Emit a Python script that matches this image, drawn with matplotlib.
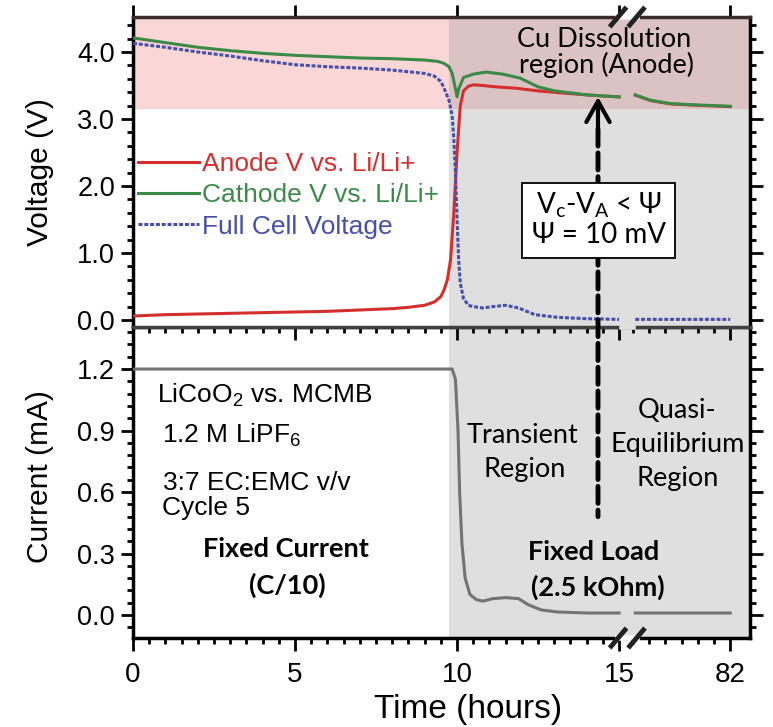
import numpy as np
import matplotlib
matplotlib.use('Agg')
import matplotlib.pyplot as plt
from matplotlib.ticker import MultipleLocator, FixedLocator
from matplotlib.patches import Rectangle, ConnectionPatch

plt.rcParams['font.family'] = ['Liberation Sans', 'DejaVu Sans']
plt.rcParams['mathtext.default'] = 'regular'
CAL = ['Lato', 'DejaVu Sans']   # stand-in for the Calibri-like annotations

# ---------------- data (time in hours) ----------------
# before the axis break (0 - 15 h)
t_anode = [0, 1, 2, 3, 4, 5, 6, 7, 8, 8.5, 9, 9.3, 9.5, 9.6, 9.7, 9.8, 9.9, 10.0,
           10.1, 10.2, 10.35, 10.5, 10.8, 11.2, 11.8, 12.5, 13.2, 14.0, 14.6, 15.0]
v_anode = [0.06, 0.08, 0.09, 0.10, 0.11, 0.12, 0.13, 0.15, 0.17, 0.19, 0.22, 0.27, 0.35,
           0.45, 0.6, 0.9, 1.6, 2.5, 3.2, 3.42, 3.49, 3.51, 3.50, 3.48, 3.46, 3.42,
           3.39, 3.36, 3.34, 3.33]

t_cath = [0, 1, 2, 3, 4, 5, 6, 7, 8, 9, 9.4, 9.6, 9.75, 9.85, 9.95, 10.0, 10.05, 10.2,
          10.5, 10.9, 11.4, 11.95, 12.5, 13.0, 13.5, 14.0, 15.0]
v_cath = [4.21, 4.14, 4.07, 4.02, 3.98, 3.95, 3.93, 3.91, 3.90, 3.88, 3.86, 3.83, 3.78,
          3.68, 3.45, 3.33, 3.45, 3.62, 3.67, 3.70, 3.67, 3.61, 3.48, 3.42, 3.39, 3.36, 3.33]

t_cell = [0, 1, 2, 3, 4, 5, 6, 7, 8, 9, 9.3, 9.5, 9.6, 9.75, 9.85, 9.9, 9.95, 10.0,
          10.05, 10.1, 10.2, 10.35, 10.5, 10.8, 11.1, 11.5, 11.9, 12.4, 13.1, 14.0, 15.0]
v_cell = [4.13, 4.07, 4.00, 3.94, 3.87, 3.81, 3.78, 3.76, 3.73, 3.68, 3.64, 3.56, 3.46,
          3.28, 3.05, 2.7, 2.2, 1.5, 0.9, 0.55, 0.32, 0.22, 0.2, 0.18, 0.2, 0.22, 0.18,
          0.08, 0.04, 0.02, 0.01]

t_curr = [0, 9.85, 9.95, 10.03, 10.08, 10.15, 10.25, 10.4, 10.6, 10.8, 11.1, 11.5,
          11.9, 12.2, 12.6, 13.1, 14.0, 15.0]
i_curr = [1.2, 1.2, 1.15, 0.9, 0.6, 0.35, 0.18, 0.1, 0.075, 0.068, 0.08, 0.085, 0.08,
          0.05, 0.025, 0.015, 0.01, 0.01]

# after the axis break (up to 82 h)
t_late = [20, 30, 43, 60, 82]
v_cath_late = [3.36, 3.28, 3.23, 3.21, 3.19]
v_anode_late = [3.355, 3.275, 3.225, 3.205, 3.185]
v_cell_late = [0.01, 0.01, 0.01, 0.01, 0.01]
i_curr_late = [0.01, 0.01, 0.01, 0.01, 0.01]

tick_hours = [0, 5, 10, 15, 82]
t_load_start = 9.75       # switch from fixed current to fixed load
v_cu_dissolution = 3.15   # anode potential above which Cu dissolves
t_arrow = 14.35
v_arrow = 3.33
i_arrow = 0.48

# broken time axis: 0-15 h linear, then 20-82 h squeezed into the last segment
POS_END = 18.43


def to_pos(t):
    t = np.asarray(t, float)
    return np.where(t <= 15, t, 15.5 + (t - 20) * (POS_END - 15.5) / (82 - 20))


def joined(t1, y1, t2, y2):
    x = np.concatenate([to_pos(t1), [np.nan], to_pos(t2)])
    y = np.concatenate([y1, [np.nan], y2])
    return x, y


red, green, blue, grey = '#d42f2f', '#3b8a48', '#4650aa', '#737373'

fig = plt.figure(figsize=(7.73, 7.27), dpi=100)
ax1 = fig.add_axes([0.1721, 0.5502, 0.7981, 0.4264])
ax2 = fig.add_axes([0.1721, 0.1224, 0.7981, 0.4278])
ax1.set_zorder(2)

for ax in (ax1, ax2):
    ax.set_xlim(0, 19.04)
    ax.axvspan(to_pos(t_load_start), 19.04, color='#989898', alpha=0.3, lw=0, zorder=0.5)
ax1.axhspan(v_cu_dissolution, 4.6, color='#fad6d6', lw=0, zorder=0.2)

x, y = joined(t_anode, v_anode, t_late, v_anode_late)
ax1.plot(x, y, color=red, lw=2.2, label='Anode V vs. Li/Li+', zorder=3)
x, y = joined(t_cath, v_cath, t_late, v_cath_late)
ax1.plot(x, y, color=green, lw=2.2, label='Cathode V vs. Li/Li+', zorder=3.1)
x, y = joined(t_cell, v_cell, t_late, v_cell_late)
ax1.plot(x, y, color=blue, lw=2.2, dashes=(1.3, 0.6), label='Full Cell Voltage', zorder=3.2)
x, y = joined(t_curr, i_curr, t_late, i_curr_late)
ax2.plot(x, y, color=grey, lw=2.2, zorder=3)

ax1.set_ylim(-0.104, 4.522)
ax2.set_ylim(-0.112, 1.405)
ax1.yaxis.set_major_locator(MultipleLocator(1.0))
ax1.yaxis.set_minor_locator(MultipleLocator(0.2))
ax2.yaxis.set_major_locator(MultipleLocator(0.3))
ax2.yaxis.set_minor_locator(MultipleLocator(0.06))
ax1.yaxis.set_major_formatter('{x:.1f}')
ax2.yaxis.set_major_formatter('{x:.1f}')

major_pos = to_pos(tick_hours)
minor_pos = list(np.arange(0, 15.01, 0.5)) + [POS_END - 0.5 * k for k in range(1, 7)]
for ax in (ax1, ax2):
    ax.xaxis.set_major_locator(FixedLocator(major_pos))
    ax.xaxis.set_minor_locator(FixedLocator(minor_pos))
    ax.tick_params(which='both', direction='out', width=2, right=True, left=True)
    ax.tick_params(which='major', length=9)
    ax.tick_params(which='minor', length=4.5)
    ax.tick_params(axis='y', labelsize=19.5, pad=4)
    for s in ax.spines.values():
        s.set_linewidth(2.5)
ax1.tick_params(axis='x', top=True, bottom=True, labelbottom=False)
ax2.tick_params(axis='x', top=False, bottom=True, labelsize=20, pad=8)
ax2.set_xticklabels([str(h) for h in tick_hours])
ax1.spines['top'].set_color('#3a2a2a')
ax1.spines['bottom'].set_color('#404040')
ax2.spines['top'].set_color('#404040')

# axis break marks
for ax, yb in ((ax1, 1.0), (ax2, 0.0)):
    tr = ax.get_xaxis_transform()
    ax.plot([14.97, 15.54], [yb, yb], color='white', lw=4, transform=tr, clip_on=False, zorder=6)
    for xc in (14.97, 15.54):
        ax.plot([xc - 0.26, xc + 0.26], [yb - 0.032, yb + 0.032], color='#222222', lw=3.5,
                transform=tr, clip_on=False, zorder=7, solid_capstyle='butt')
ax1.plot([15.09, 15.43], [0, 0], color='#e0e0e0', lw=4, transform=ax1.get_xaxis_transform(),
         clip_on=False, zorder=6)

# labels
fig.text(40 / 773, 1 - 172 / 727, 'Voltage (V)', rotation=90, ha='center', va='center', fontsize=21.5)
fig.text(40 / 773, 1 - 477 / 727, 'Current (mA)', rotation=90, ha='center', va='center', fontsize=21.5)
fig.text(468 / 773, 1 - 718 / 727, 'Time (hours)', ha='center', va='baseline', fontsize=24)

ax1.legend(loc='center left', bbox_to_anchor=(0.008, 0.425), frameon=False, fontsize=19,
           handlelength=2.3, handletextpad=0.12, labelspacing=0.28, borderaxespad=0,
           borderpad=0, labelcolor='linecolor')

# region annotations
ax1.text(0.764, (327 - 47) / 310, 'Cu Dissolution', transform=ax1.transAxes, ha='center',
         va='baseline', fontsize=19.5, family=CAL, zorder=8)
ax1.text(0.767, (327 - 73) / 310, 'region (Anode)', transform=ax1.transAxes, ha='center',
         va='baseline', fontsize=19.5, family=CAL, zorder=8)

info = [(157, 403, 'LiCoO$_2$ vs. MCMB'), (162, 443, '1.2 M LiPF$_6$'),
        (163, 490, '3:7 EC:EMC v/v'), (162, 515, 'Cycle 5')]
for px, py, s in info:
    ax2.text((px - 133) / 617, (638 - py) / 311, s, transform=ax2.transAxes,
             ha='left', va='baseline', fontsize=19)

region_text = [(286, 557, 'Fixed Current', 'bold'), (287, 594, '(C/10)', 'bold'),
               (523, 443, 'Transient', 'normal'), (525, 477, 'Region', 'normal'),
               (677, 418, 'Quasi-', 'normal'), (678, 452, 'Equilibrium', 'normal'),
               (678, 486, 'Region', 'normal'), (594, 560, 'Fixed Load', 'bold'),
               (598, 596, '(2.5 kOhm)', 'bold')]
for px, py, s, w in region_text:
    ax2.text((px - 133) / 617, (638 - py) / 311, s, transform=ax2.transAxes, ha='center',
             va='baseline', fontsize=19.5, family=CAL, fontweight=w, zorder=8)

# dashed arrow running down through both panels
ax1.annotate('', xy=(to_pos(t_arrow), v_arrow), xytext=(to_pos(t_arrow), 2.85),
             arrowprops=dict(arrowstyle='->,head_length=0.75,head_width=0.42', lw=3,
                             color='black', mutation_scale=20, shrinkA=0, shrinkB=0),
             zorder=9)
con = ConnectionPatch(xyA=(to_pos(t_arrow), 2.85), coordsA=ax1.transData,
                      xyB=(to_pos(t_arrow), i_arrow), coordsB=ax2.transData,
                      color='black', lw=3.5, linestyle=(0, (3.5, 1.4)), zorder=4)
fig.add_artist(con)

bx0, bx1, by0, by1 = 522, 675, 183, 258
fig.add_artist(Rectangle((bx0 / 773, 1 - by1 / 727), (bx1 - bx0) / 773, (by1 - by0) / 727,
                         transform=fig.transFigure, facecolor='white', edgecolor='black',
                         lw=1.3, zorder=5))
fig.text(598.5 / 773, 1 - 213 / 727, r'V$_\mathregular{c}$-V$_\mathregular{A}$ < Ψ',
         ha='center', va='baseline', fontsize=20, family=CAL, zorder=6)
fig.text(598.5 / 773, 1 - 243 / 727, 'Ψ = 10 mV', ha='center', va='baseline',
         fontsize=20, family=CAL, zorder=6)

fig.savefig('out.png', dpi=100)
